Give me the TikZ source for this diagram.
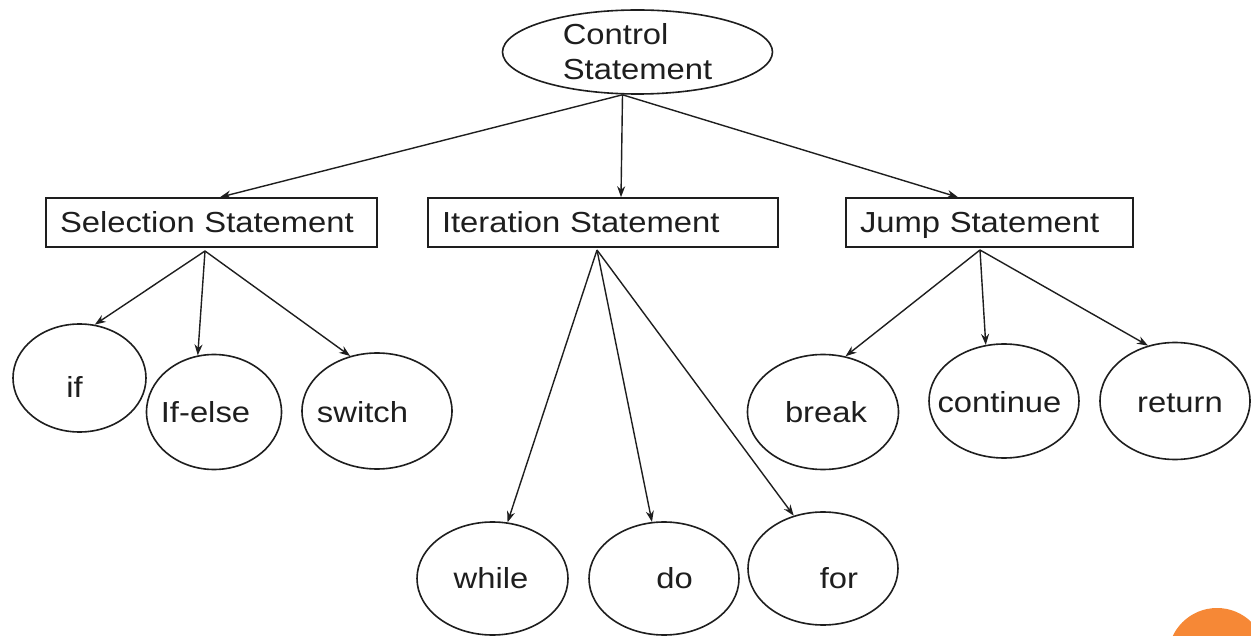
\documentclass[tikz,border=0pt]{standalone}
\usepackage{fontspec}
\setmainfont{Liberation Sans}[FakeStretch=1.13]
\usetikzlibrary{shapes.geometric,arrows.meta}
\definecolor{ink}{RGB}{30,30,30}
\definecolor{badge}{RGB}{246,136,54}
\tikzset{
  every node/.style={font=\fontsize{29}{35}\selectfont, text=ink},
  oval/.style={ellipse, draw=ink, line width=1.6pt, inner sep=0pt},
  stmtbox/.style={rectangle, draw=ink, line width=1.6pt, align=left,
    inner xsep=14pt, inner ysep=0pt, minimum height=49pt,
    text height=21pt, text depth=0pt},
  word/.style={anchor=base, inner sep=0pt},
  link/.style={draw=ink, line width=1.4pt, -{Stealth[length=11pt,width=8pt]}}
}
\begin{document}
\begin{tikzpicture}[x=1pt, y=-1pt]
\useasboundingbox (0,0) rectangle (1251,636);
\fill[white] (0,0) rectangle (1251,636);
\begin{scope}
  \clip (0,0) rectangle (1251,636);
  \fill[badge] (1217,657) circle (49);
\end{scope}

% root
\node[oval, minimum width=270pt, minimum height=84pt, align=left] (ctrl) at (637.5,52) {Control\\Statement};

% categories
\node[stmtbox, text width=303pt] (sel)  at (211.5,222.5) {Selection Statement};
\node[stmtbox, text width=322pt] (iter) at (603,222.5)   {Iteration Statement};
\node[stmtbox, text width=259pt] (jump) at (989.5,222.5) {Jump Statement};

% leaves
\node[oval, minimum width=133pt, minimum height=108pt] (if)     at (79.5,378)  {};
\node[oval, minimum width=135pt, minimum height=115pt] (ifelse) at (214,412)   {};
\node[oval, minimum width=150pt, minimum height=116pt] (switch) at (377,411)   {};
\node[oval, minimum width=151pt, minimum height=113pt] (while)  at (492.5,578.5) {};
\node[oval, minimum width=150pt, minimum height=113pt] (do)     at (664,578.5) {};
\node[oval, minimum width=150pt, minimum height=113pt] (for)    at (823,568.5) {};
\node[oval, minimum width=151pt, minimum height=115pt] (break)  at (823,412)   {};
\node[oval, minimum width=150pt, minimum height=114pt] (cont)   at (1004,401)  {};
\node[oval, minimum width=150pt, minimum height=117pt] (ret)    at (1175,401)  {};

\node[word] (if-t)     at (74.5,398)  {if};
\node[word] (ifelse-t) at (205.5,422) {If-else};
\node[word] (switch-t) at (362.5,422) {switch};
\node[word] (while-t)  at (491,588)   {while};
\node[word] (do-t)     at (674.5,588) {do};
\node[word] (for-t)    at (839,588)   {for};
\node[word] (break-t)  at (826,422)   {break};
\node[word] (cont-t)   at (999.5,412) {continue};
\node[word] (ret-t)    at (1180,412)  {return};

% fan-out points
\coordinate (ctrl-out) at ([xshift=-15pt]ctrl.south);
\coordinate (sel-out)  at (205,251);
\coordinate (iter-out) at (597,250);
\coordinate (jump-out) at (980,250);

\draw[link] (ctrl-out) -- ([xshift=8.5pt]sel.north);
\draw[link] (ctrl-out) -- ([xshift=18pt]iter.north);
\draw[link] (ctrl-out) -- ([xshift=-31.5pt]jump.north);

\draw[link] (sel-out) -- (if.74);
\draw[link] (sel-out) -- (ifelse.106);
\draw[link] (sel-out) -- (switch.116);

\draw[link] (iter-out) -- (while.75);
\draw[link] (iter-out) -- (do.102);
\draw[link] (iter-out) -- (for.119);

\draw[link] (jump-out) -- (break.68);
\draw[link] (jump-out) -- (cont.108);
\draw[link] (jump-out) -- (ret.116);
\end{tikzpicture}
\end{document}
